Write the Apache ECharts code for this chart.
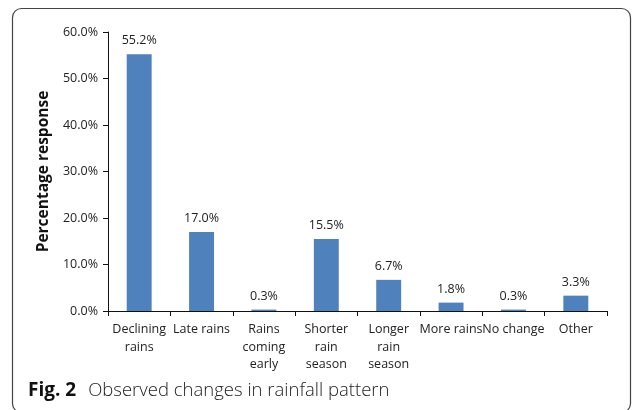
<!DOCTYPE html>
<html>
<head>
<meta charset="utf-8">
<script src="https://cdn.jsdelivr.net/npm/echarts@6/dist/echarts.min.js"></script>
<style>
  html, body { margin: 0; padding: 0; background: #fff; }
  #chart { width: 636px; height: 410px; }
</style>
</head>
<body>
<div id="chart"></div>
<script>
// Observed changes in rainfall pattern (share of responses)
const categories = [
  'Declining\nrains',
  'Late rains',
  'Rains\ncoming\nearly',
  'Shorter\nrain\nseason',
  'Longer\nrain\nseason',
  'More rains',
  'No change',
  'Other'
];
const responsePct = [55.2, 17.0, 0.3, 15.5, 6.7, 1.8, 0.3, 3.3];
const yTicks = [0, 10, 20, 30, 40, 50, 60];

const font = '"Open Sans", "Noto Sans", sans-serif';
const chart = echarts.init(document.getElementById('chart'), null, { renderer: 'canvas' });

chart.setOption({
  animation: false,
  backgroundColor: '#fff',
  grid: { left: 108, right: 29, top: 32, bottom: 99, containLabel: false },
  xAxis: {
    type: 'category',
    data: categories,
    axisLine: { lineStyle: { color: '#111', width: 1 } },
    axisTick: { show: true, alignWithLabel: false, length: 5, lineStyle: { color: '#111' } },
    axisLabel: {
      interval: 0,
      color: '#222',
      fontFamily: font,
      fontSize: 12.5,
      lineHeight: 17.5,
      margin: 10
    }
  },
  yAxis: {
    type: 'value',
    min: yTicks[0],
    max: yTicks[yTicks.length - 1],
    interval: 10,
    name: 'Percentage response',
    nameLocation: 'middle',
    nameGap: 47,
    nameTextStyle: { fontFamily: font, fontSize: 15.5, fontWeight: 'bold', color: '#111' },
    splitLine: { show: false },
    axisLine: { show: true, lineStyle: { color: '#111', width: 1 } },
    axisTick: { show: true, length: 5, lineStyle: { color: '#111' } },
    axisLabel: {
      color: '#222',
      fontFamily: font,
      fontSize: 12.5,
      margin: 10,
      formatter: v => v.toFixed(1) + '%'
    }
  },
  series: [{
    type: 'bar',
    data: responsePct,
    barWidth: '40%',
    itemStyle: { color: '#4F81BD' },
    label: {
      show: true,
      position: 'top',
      distance: 7,
      color: '#222',
      fontFamily: font,
      fontSize: 12.5,
      formatter: p => p.value.toFixed(1) + '%'
    }
  }],
  graphic: [
    {
      type: 'rect',
      silent: true,
      shape: { x: 12.5, y: 8.5, width: 618, height: 404, r: 9 },
      style: { fill: 'none', stroke: '#444', lineWidth: 1.2 }
    },
    {
      type: 'text',
      left: 28,
      top: 381,
      style: {
        text: '{b|Fig. 2}{g|}{n|Observed changes in rainfall pattern}',
        rich: {
          b: { fontFamily: font, fontSize: 19, fontWeight: 'bold', fill: '#111' },
          g: { width: 12 },
          n: { fontFamily: font, fontSize: 18.5, fontWeight: 300, fill: '#222' }
        }
      }
    }
  ]
});
</script>
</body>
</html>
